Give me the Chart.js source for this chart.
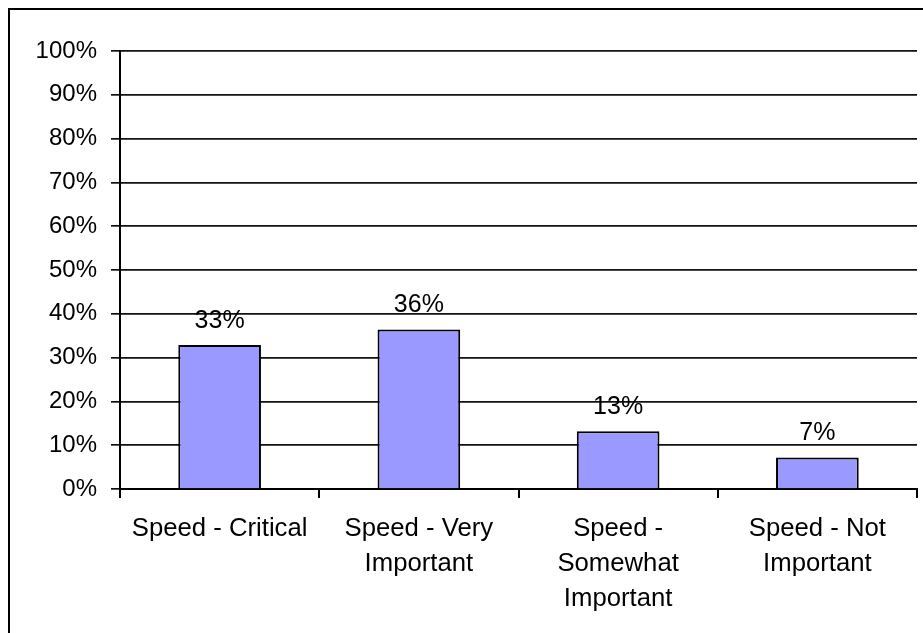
<!DOCTYPE html>
<html>
<head>
<meta charset="utf-8">
<script src="https://cdn.jsdelivr.net/npm/chart.js@4/dist/chart.umd.min.js"></script>
<style>
    html, body { margin: 0; padding: 0; background: #fff; }
    #wrap { position: relative; width: 923px; height: 633px; }
    #marco {
        position: absolute; left: 8px; top: 8px; right: -5px; bottom: -5px;
        border-left: 2.5px solid #000; border-top: 2.5px solid #000;
        pointer-events: none;
    }
</style>
</head>
<body>
<div id="wrap">
    <canvas id="grafico" width="923" height="633"></canvas>
    <div id="marco"></div>
</div>
<script>
const categorias = [
    ['Speed - Critical'],
    ['Speed - Very', 'Important'],
    ['Speed -', 'Somewhat', 'Important'],
    ['Speed - Not', 'Important']
];
const valores = [32.9, 36.4, 13.2, 7.2];
const etiquetas = ['33%', '36%', '13%', '7%'];
const ticksY = [0, 10, 20, 30, 40, 50, 60, 70, 80, 90, 100];

const fuente = "'Liberation Sans', Arial, sans-serif";

const etiquetasBarras = {
    id: 'etiquetasBarras',
    afterDatasetsDraw(chart) {
        const ctx = chart.ctx;
        const meta = chart.getDatasetMeta(0);
        ctx.save();
        ctx.font = '25px ' + fuente;
        ctx.fillStyle = '#000';
        ctx.textAlign = 'center';
        ctx.textBaseline = 'middle';
        meta.data.forEach(function (bar, i) {
            ctx.fillText(etiquetas[i], bar.x, bar.y - 24);
        });
        ctx.restore();
    }
};

window.addEventListener('load', function () {
    const ctx = document.getElementById('grafico');
    new Chart(ctx, {
        type: 'bar',
        data: {
            labels: categorias,
            datasets: [{
                data: valores,
                backgroundColor: '#9999ff',
                borderColor: '#000',
                borderWidth: 2,
                barPercentage: 0.415,
                categoryPercentage: 1
            }]
        },
        options: {
            responsive: false,
            animation: false,
            layout: { padding: { top: 51, right: 6, left: 0, bottom: 0 } },
            plugins: {
                legend: { display: false },
                tooltip: { enabled: false }
            },
            scales: {
                x: {
                    afterFit: function (s) { s.height = 144; },
                    grid: {
                        drawOnChartArea: false,
                        drawTicks: true,
                        tickLength: 9,
                        color: '#000',
                        lineWidth: 2,
                        offset: true
                    },
                    border: { color: '#000', width: 2 },
                    ticks: {
                        color: '#000',
                        padding: 13,
                        maxRotation: 0,
                        autoSkip: false,
                        font: { family: fuente, size: 25.7, lineHeight: '35px' }
                    }
                },
                y: {
                    min: 0,
                    max: 100,
                    afterFit: function (s) { s.width = 120; },
                    afterBuildTicks: function (s) {
                        s.ticks = ticksY.map(function (v) { return { value: v }; });
                    },
                    grid: {
                        color: '#111',
                        lineWidth: 1.7,
                        tickLength: 9
                    },
                    border: { color: '#000', width: 2 },
                    ticks: {
                        color: '#000',
                        padding: 14,
                        font: { family: fuente, size: 24 },
                        callback: function (v) { return v + '%'; }
                    }
                }
            }
        },
        plugins: [etiquetasBarras]
    });
});
</script>
</body>
</html>
